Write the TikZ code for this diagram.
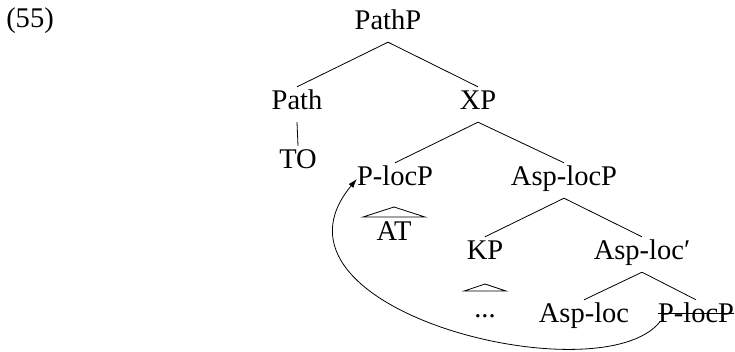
\documentclass[tikz,border=0pt]{standalone}
\usepackage{fontspec}
\setmainfont{Liberation Serif}
\usetikzlibrary{arrows.meta,calc}
\begin{document}
\begin{tikzpicture}[x=1pt,y=-1pt,
  lab/.style={anchor=base,inner sep=0pt,text height=22pt,text depth=13pt,font=\fontsize{28.5}{34}\selectfont},
  edge/.style={line width=0.8pt},
  tri/.style={line width=0.8pt,line join=miter}]
\useasboundingbox (0,0) rectangle (735,351);
\node[lab] (ex) at (30,27) {(55)};
\node[lab] (pathp) at (388,29) {PathP};
\node[lab] (path) at (297,109) {Path};
\node[lab] (xp) at (478,109) {XP};
\node[lab] (to) at (298,168) {TO};
\node[lab] (plocp) at (395,185) {P-locP};
\node[lab] (asplocp) at (564,185) {Asp-locP};
\node[lab] (at) at (394,240) {AT};
\node[lab] (kp) at (485,259) {KP};
\node[lab] (asplocbar) at (642,259) {Asp-loc′};
\node[lab] (dots) at (485,317) {...};
\node[lab] (asploc) at (584,322) {Asp-loc};
\node[lab] (strk) at (696,322) {P-locP};
\draw[edge] (pathp.south) -- (path.north);
\draw[edge] (pathp.south) -- (xp.north);
\draw[edge] (path.south) -- (to.north);
\draw[edge] (xp.south) -- (plocp.north);
\draw[edge] (xp.south) -- (asplocp.north);
\draw[edge] (asplocp.south) -- (kp.north);
\draw[edge] (asplocp.south) -- (asplocbar.north);
\draw[edge] (asplocbar.south) -- (asploc.north);
\draw[edge] (asplocbar.south) -- (strk.north);
\draw[tri] ($(at.base)+(-31,-23)$) -- ($(at.base)+(0,-33)$) -- ($(at.base)+(31,-23)$) -- cycle;
\draw[tri] ($(dots.base)+(-21,-26)$) -- ($(dots.base)+(0,-33)$) -- ($(dots.base)+(21,-26)$) -- cycle;
\draw[edge] ([yshift=9pt]strk.base west) -- ([yshift=9pt]strk.base east);
\draw[edge,-{Latex[length=9pt,width=6pt]}] ([xshift=2pt]strk.base west) .. controls +(-60,74) and +(-109,131) .. ([yshift=6pt]plocp.base west);
\end{tikzpicture}
\end{document}
